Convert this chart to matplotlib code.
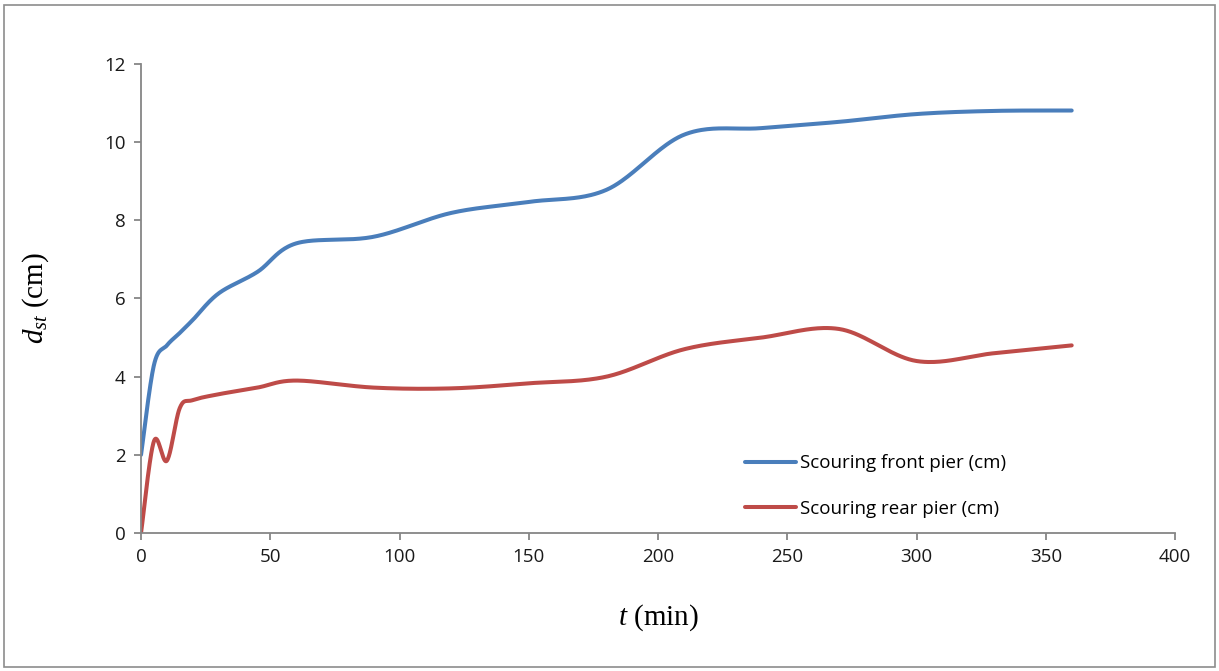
import numpy as np
import matplotlib.pyplot as plt
from matplotlib.patches import Rectangle

plt.rcParams['mathtext.fontset'] = 'custom'
plt.rcParams['mathtext.it'] = 'Liberation Serif:italic'
plt.rcParams['mathtext.rm'] = 'Liberation Serif'

t_min = [0, 5, 10, 15, 20, 30, 45, 60, 90, 120, 150, 180, 210, 240, 270, 300, 330, 360]
front_pier = [2.0, 4.3, 4.8, 5.12, 5.45, 6.13, 6.68, 7.41, 7.58, 8.19, 8.47, 8.78, 10.19, 10.36, 10.52, 10.72, 10.8, 10.81]
rear_pier = [0.0, 2.35, 1.85, 3.2, 3.4, 3.55, 3.72, 3.9, 3.72, 3.7, 3.83, 4.0, 4.7, 5.0, 5.22, 4.4, 4.6, 4.8]

x_ticks = [0, 50, 100, 150, 200, 250, 300, 350, 400]
y_ticks = [0, 2, 4, 6, 8, 10, 12]


def smooth(x, y, n=40):
    # catmull-rom through the points, similar to Excel's smoothed line
    p = np.column_stack([x, y]).astype(float)
    p = np.vstack([p[0], p, p[-1]])
    out = []
    s = np.linspace(0, 1, n, endpoint=False)[:, None]
    for i in range(1, len(p) - 2):
        p0, p1, p2, p3 = p[i - 1], p[i], p[i + 1], p[i + 2]
        c1 = p1 + (p2 - p0) / 6
        c2 = p2 - (p3 - p1) / 6
        seg = (1 - s) ** 3 * p1 + 3 * (1 - s) ** 2 * s * c1 + 3 * (1 - s) * s ** 2 * c2 + s ** 3 * p2
        out.append(seg)
    out.append(p[-2][None, :])
    out = np.vstack(out)
    return out[:, 0], out[:, 1]


fig = plt.figure(figsize=(12.19, 6.71), dpi=100)
ax = fig.add_axes([0.1157, 0.2057, 0.8483, 0.6989])

xb, yb = smooth(t_min, front_pier)
xr, yr = smooth(t_min, rear_pier)
ax.plot(xb, yb, color='#4A7EBB', lw=2.9, solid_capstyle='round', label='Scouring front pier (cm)')
ax.plot(xr, yr, color='#BE4B48', lw=2.9, solid_capstyle='round', label='Scouring rear pier (cm)')

ax.set_xlim(0, 400)
ax.set_ylim(0, 12)
ax.set_xticks(x_ticks)
ax.set_yticks(y_ticks)
for s in ['top', 'right']:
    ax.spines[s].set_visible(False)
for s in ['left', 'bottom']:
    ax.spines[s].set_color('#868686')
    ax.spines[s].set_linewidth(1.3)
ax.tick_params(direction='out', length=5, width=1.3, color='#868686',
               labelsize=13.5, labelcolor='#1a1a1a', pad=6)
for lab in ax.get_xticklabels() + ax.get_yticklabels():
    lab.set_family('Open Sans')

ax.set_xlabel('$\\it{t}$ (min)', family='Liberation Serif', fontsize=21, labelpad=26)
ax.set_ylabel('$\\it{d_{st}}$ (cm)', family='Liberation Serif', fontsize=21, labelpad=38)

leg = ax.legend(loc='lower left', bbox_to_anchor=(0.575, 0.013), frameon=False,
                prop={'family': 'Open Sans', 'size': 13.5}, handlelength=2.7,
                handletextpad=0.25, labelspacing=1.45, borderpad=0)

fig.patches.append(Rectangle((0.003, 0.006), 0.994, 0.987, transform=fig.transFigure,
                             fill=False, edgecolor='#8c8c8c', lw=1.2))

plt.savefig('out.png', dpi=100)
